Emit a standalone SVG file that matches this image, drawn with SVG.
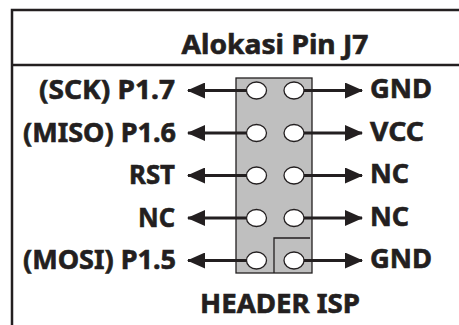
<svg xmlns="http://www.w3.org/2000/svg" width="459" height="325" viewBox="0 0 459 325">
<style>
.t{font-family:"Noto Sans","Open Sans",sans-serif;font-weight:bold;fill:#231f20;stroke:#231f20;stroke-width:0.6;font-size:26px}
.w{stroke:#231f20;stroke-width:3;fill:none}
.pin{fill:#fff;stroke:#231f20;stroke-width:1.3}
.f{stroke:#231f20;stroke-width:2.5;fill:none}
</style>
<defs>
<marker id="ah" viewBox="0 0 18 16" refX="17" refY="8" markerWidth="18" markerHeight="16" markerUnits="userSpaceOnUse" orient="auto">
<path d="M0,0 L18,8 L0,16 Z" fill="#231f20"/>
</marker>
</defs>
<g id="frame">
<path class="f" d="M12,325 V10 H459 M12,65 H459"/>
<text class="t" x="275" y="53.5" text-anchor="middle" font-size="28" textLength="187" lengthAdjust="spacingAndGlyphs">Alokasi Pin J7</text>
</g>
<g id="header">
<rect x="236" y="78" width="76" height="195" fill="#bfbfbf" stroke="#231f20" stroke-width="1.3"/>
<path d="M274,273 V238 H310" stroke="#231f20" stroke-width="1.3" fill="none"/>
<text class="t" x="280" y="313" text-anchor="middle" textLength="160" lengthAdjust="spacingAndGlyphs">HEADER ISP</text>
</g>
<g id="connectors">
<path class="w" marker-end="url(#ah)" d="M247,90.5 H188"/>
<path class="w" marker-end="url(#ah)" d="M247,133 H188"/>
<path class="w" marker-end="url(#ah)" d="M247,175.5 H188"/>
<path class="w" marker-end="url(#ah)" d="M247,218 H188"/>
<path class="w" marker-end="url(#ah)" d="M247,260.5 H188"/>
<path class="w" marker-end="url(#ah)" d="M304,90.5 H362"/>
<path class="w" marker-end="url(#ah)" d="M304,133 H362"/>
<path class="w" marker-end="url(#ah)" d="M304,175.5 H362"/>
<path class="w" marker-end="url(#ah)" d="M304,218 H362"/>
<path class="w" marker-end="url(#ah)" d="M304,260.5 H362"/>
</g>
<g id="pins">
<ellipse class="pin" cx="256.5" cy="90.5" rx="10" ry="8.5"/>
<ellipse class="pin" cx="294" cy="90.5" rx="10" ry="8.5"/>
<ellipse class="pin" cx="256.5" cy="133" rx="10" ry="8.5"/>
<ellipse class="pin" cx="294" cy="133" rx="10" ry="8.5"/>
<ellipse class="pin" cx="256.5" cy="175.5" rx="10" ry="8.5"/>
<ellipse class="pin" cx="294" cy="175.5" rx="10" ry="8.5"/>
<ellipse class="pin" cx="256.5" cy="218" rx="10" ry="8.5"/>
<ellipse class="pin" cx="294" cy="218" rx="10" ry="8.5"/>
<ellipse class="pin" cx="256.5" cy="260.5" rx="10" ry="8.5"/>
<ellipse class="pin" cx="294" cy="260.5" rx="10" ry="8.5"/>
</g>
<g id="labels-left">
<text class="t" x="39" y="99" textLength="136" lengthAdjust="spacingAndGlyphs">(SCK) P1.7</text>
<text class="t" x="23" y="141.5" textLength="153" lengthAdjust="spacingAndGlyphs">(MISO) P1.6</text>
<text class="t" x="129" y="184" textLength="46" lengthAdjust="spacingAndGlyphs">RST</text>
<text class="t" x="138" y="226.5" textLength="37" lengthAdjust="spacingAndGlyphs">NC</text>
<text class="t" x="23" y="269" textLength="153" lengthAdjust="spacingAndGlyphs">(MOSI) P1.5</text>
</g>
<g id="labels-right">
<text class="t" x="370" y="98" textLength="62" lengthAdjust="spacingAndGlyphs">GND</text>
<text class="t" x="370" y="140.5" textLength="54" lengthAdjust="spacingAndGlyphs">VCC</text>
<text class="t" x="370" y="183" textLength="39" lengthAdjust="spacingAndGlyphs">NC</text>
<text class="t" x="370" y="225.5" textLength="39" lengthAdjust="spacingAndGlyphs">NC</text>
<text class="t" x="370" y="268" textLength="62" lengthAdjust="spacingAndGlyphs">GND</text>
</g>
</svg>
